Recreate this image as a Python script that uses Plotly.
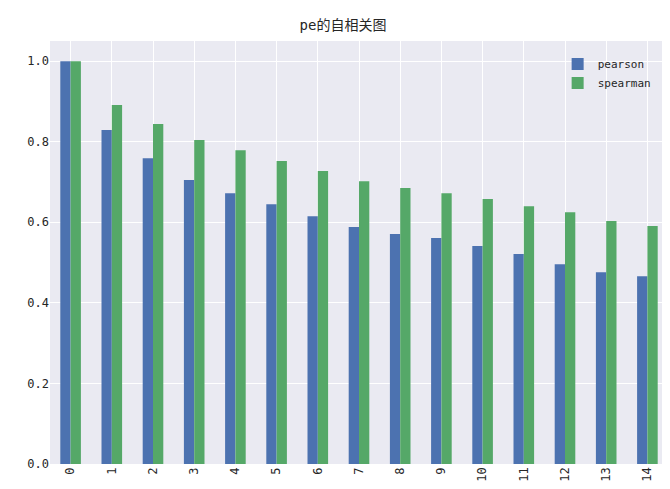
import plotly.graph_objects as go

lags = [str(i) for i in range(15)]
pearson = [1.0, 0.829, 0.759, 0.705, 0.672, 0.645, 0.615, 0.588, 0.571, 0.561, 0.541, 0.521, 0.496, 0.476, 0.466]
spearman = [1.0, 0.891, 0.844, 0.804, 0.779, 0.752, 0.727, 0.702, 0.685, 0.672, 0.658, 0.640, 0.625, 0.603, 0.591]

fig = go.Figure()
fig.add_bar(x=lags, y=pearson, name="pearson", marker=dict(color="#4C72B0", line_width=0))
fig.add_bar(x=lags, y=spearman, name="spearman", marker=dict(color="#55A868", line_width=0))

fig.update_layout(
    width=670, height=489,
    margin=dict(l=42, r=10, t=33, b=33, autoexpand=False),
    title=dict(text="pe的自相关图", x=0.5, y=0.975, xanchor="center", font=dict(size=14, color="#262626")),
    font=dict(family="DejaVu Sans Mono, Noto Sans CJK SC", size=12, color="#262626"),
    paper_bgcolor="white", plot_bgcolor="#EAEAF2",
    barmode="group", bargap=0.5, bargroupgap=0,
    legend=dict(x=0.98, y=0.98, xanchor="right", yanchor="top", bgcolor="rgba(0,0,0,0)", font=dict(size=11)),
)
fig.update_xaxes(showgrid=True, gridcolor="white", gridwidth=1, tickangle=-90, ticks="", zeroline=False, automargin=False)
fig.update_yaxes(range=[0, 1.05], dtick=0.2, tickformat=".1f", showgrid=True, gridcolor="white", gridwidth=1, zeroline=False, ticks="", automargin=False)

fig.write_html("out.html")
